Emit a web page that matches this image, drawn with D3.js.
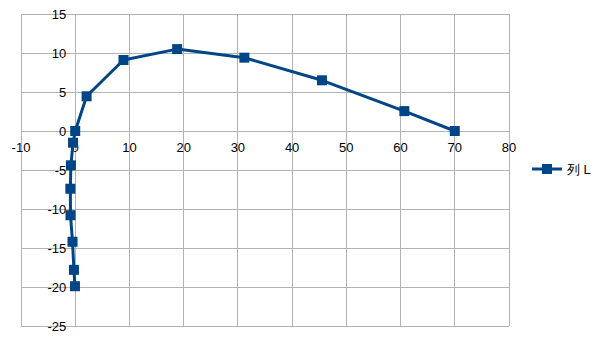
<!DOCTYPE html>
<html>
<head>
<meta charset="utf-8">
<script src="https://cdn.jsdelivr.net/npm/d3@7"></script>
<style>
  body { margin: 0; background: #fff; }
  text { font-family: "Liberation Sans", Arial, sans-serif; font-size: 13px; fill: #000; }
</style>
</head>
<body>
<svg width="605" height="340"></svg>
<script>
// series "列 L"
var xValues = [70, 60.7, 45.5, 31.2, 18.8, 8.9, 2.1, 0, -0.4, -0.8, -0.9, -0.87, -0.5, -0.24, -0.05];
var yValues = [0, 2.55, 6.5, 9.4, 10.5, 9.1, 4.45, 0, -1.5, -4.4, -7.4, -10.8, -14.2, -17.8, -19.9];
var seriesName = "列 L";
var xTicks = [-10, 0, 10, 20, 30, 40, 50, 60, 70, 80];
var yTicks = [15, 10, 5, 0, -5, -10, -15, -20, -25];

var svg = d3.select("svg");
var color = "#004586", grid = "#b3b3b3";

var x = d3.scaleLinear().domain([-10, 80]).range([21, 509]);
var y = d3.scaleLinear().domain([-25, 15]).range([326, 14]);

// gridlines
svg.append("g").selectAll("line").data(yTicks).enter().append("line")
    .attr("x1", x(-10)).attr("x2", x(80))
    .attr("y1", d => y(d)).attr("y2", d => y(d))
    .attr("stroke", grid).attr("shape-rendering", "crispEdges");
svg.append("g").selectAll("line").data(xTicks).enter().append("line")
    .attr("y1", y(15)).attr("y2", y(-25))
    .attr("x1", d => x(d)).attr("x2", d => x(d))
    .attr("stroke", grid).attr("shape-rendering", "crispEdges");

// tick labels, axes cross at 0
svg.append("g").selectAll("text").data(xTicks).enter().append("text")
    .attr("x", d => x(d)).attr("y", y(0) + 21)
    .attr("text-anchor", "middle").text(d => d);
svg.append("g").selectAll("text").data(yTicks).enter().append("text")
    .attr("x", x(0) - 9).attr("y", d => y(d) + 5)
    .attr("text-anchor", "end").text(d => d);

var pts = xValues.map((v, i) => [v, yValues[i]]);
var line = d3.line().x(d => x(d[0])).y(d => y(d[1]));

svg.append("path").datum(pts)
    .attr("d", line).attr("fill", "none")
    .attr("stroke", color).attr("stroke-width", 3).attr("stroke-linejoin", "round");

svg.append("g").selectAll("rect").data(pts).enter().append("rect")
    .attr("x", d => x(d[0]) - 5).attr("y", d => y(d[1]) - 5)
    .attr("width", 10).attr("height", 10).attr("fill", color);

// legend
var lg = svg.append("g").attr("transform", "translate(532,169)");
lg.append("line").attr("x1", 0).attr("x2", 30).attr("stroke", color).attr("stroke-width", 3);
lg.append("rect").attr("x", 10).attr("y", -5).attr("width", 10).attr("height", 10).attr("fill", color);
lg.append("text").attr("x", 35).attr("y", 5).text(seriesName);
</script>
</body>
</html>
